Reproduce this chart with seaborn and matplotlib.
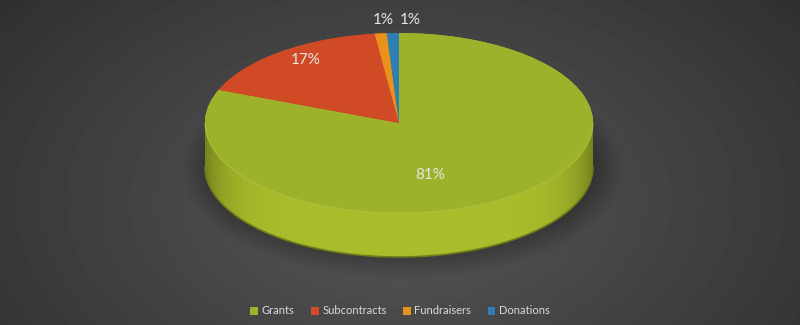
import numpy as np
import matplotlib
matplotlib.use("Agg")
import matplotlib.pyplot as plt
import seaborn as sns
from matplotlib.patches import Patch, Polygon, Ellipse

categories = ["Grants", "Subcontracts", "Fundraisers", "Donations"]
values = [81, 17, 1, 1]
pct_labels = ["81%", "17%", "1%", "1%"]

top_colors = ["#9db22a", "#d04b25", "#e8921c", "#2f80b2"]
side_colors = ["#a9bc2b", "#b83f1e", "#cc7f16", "#296f9c"]

sns.set_theme(style="white")
plt.rcParams["font.family"] = ["Lato", "DejaVu Sans"]

W, H = 800, 325
fig = plt.figure(figsize=(8, 3.25), dpi=100)

# background radial gradient
bg = fig.add_axes([0, 0, 1, 1])
yy, xx = np.mgrid[0:H, 0:W]
rr = np.sqrt(((xx - 400) / 520.0) ** 2 + ((yy - 200) / 330.0) ** 2)
val = np.clip(0.345 - 0.16 * rr, 0.19, 0.345)
bg.imshow(val, cmap="gray", vmin=0, vmax=1, extent=(0, W, H, 0), aspect="auto", interpolation="bilinear")
bg.set_xlim(0, W); bg.set_ylim(H, 0)
bg.axis("off")

# geometry (pixel-based)
cx_px, cy_px = 399.0, 123.0
a_px, b_px, depth_px = 194.0, 90.0, 44.0
d = depth_px / b_px

ax = fig.add_axes([0, 0, 1, 1])
ax.patch.set_alpha(0)

# soft shadow
for k in range(10):
    ax.add_patch(Ellipse((0.02, -d - 0.02), 2.0 + 0.03 * k, 2.0 + 0.05 * k,
                         facecolor="black", edgecolor="none", alpha=0.025, zorder=0))

# side wall via stacked pies
N = 60
for i in range(N + 1):
    yc = -d * (1 - i / N)
    ws, _ = ax.pie(values, colors=side_colors, startangle=90, counterclock=False,
                   radius=1, center=(0, yc), wedgeprops=dict(linewidth=0))
    for w in ws:
        w.set_zorder(1 + i * 0.001)

# shading overlay on side
th = np.linspace(np.pi, 2 * np.pi, 200)
pts = np.concatenate([np.c_[np.cos(th), np.sin(th)],
                      np.c_[np.cos(th[::-1]), np.sin(th[::-1]) - d]])
side_poly = Polygon(pts, closed=True, facecolor="none", edgecolor="none")
ax.add_patch(side_poly)
gx = np.linspace(-1, 1, 300)
gy = np.linspace(-d - 1, 0, 100)
GX, GY = np.meshgrid(gx, gy)
shade = np.zeros(GX.shape + (4,))
shade[..., 3] = 0.3 * np.abs(GX) ** 8
im = ax.imshow(shade, extent=(-1, 1, -d - 1, 0), origin="lower", aspect="auto", zorder=2)
im.set_clip_path(side_poly)

# bottom rim line
ax.plot(np.cos(th), np.sin(th) - d, color="#6f7a18", lw=1.2, zorder=2.5)

# top face
wt, _ = ax.pie(values, colors=top_colors, startangle=90, counterclock=False,
               radius=1, center=(0, 0), wedgeprops=dict(linewidth=0))
for w in wt:
    w.set_zorder(3)
ax.plot(np.cos(th), np.sin(th), color="#b4c64a", lw=0.8, alpha=0.6, zorder=3.5)

# labels
cum = np.cumsum([0] + values[:-1])
tot = float(sum(values))
label_r = [0.6, 0.82, 1.16, 1.16]
label_dx = [-0.177, 0.02, 0.03, 0.093]
label_dy = [-0.08, 0.05, -0.01, -0.01]
for i, v in enumerate(values):
    mid = np.deg2rad(90 - 360 * (cum[i] + v / 2) / tot)
    x = label_r[i] * np.cos(mid) + label_dx[i]
    y = label_r[i] * np.sin(mid) + label_dy[i]
    ax.text(x, y, pct_labels[i], color="#e6e6e6", fontsize=11, ha="center",
            va="center", zorder=5)

ax.set_aspect("auto")
ax.set_xlim(-cx_px / a_px, (W - cx_px) / a_px)
ax.set_ylim(-(H - cy_px) / b_px, cy_px / b_px)
ax.axis("off")

handles = [Patch(facecolor=c, edgecolor="none", label=l) for c, l in zip(top_colors, categories)]
fig.legend(handles=handles, loc="center", bbox_to_anchor=(0.5, 1 - 311 / H), ncol=4,
           frameon=False, fontsize=8, handlelength=0.7, handleheight=0.7,
           handletextpad=0.3, columnspacing=1.5, labelcolor="#d9d9d9")

fig.savefig("out.png", dpi=100)
